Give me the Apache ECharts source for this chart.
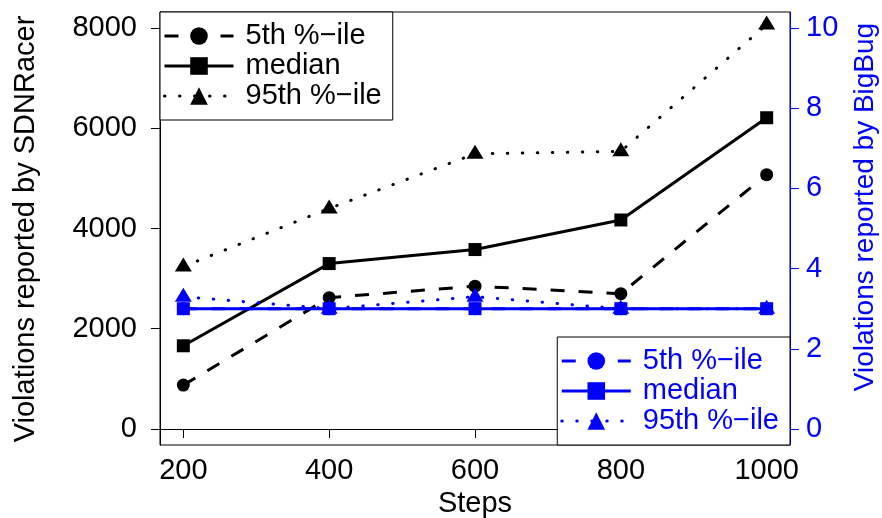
<!DOCTYPE html>
<html>
<head>
<meta charset="utf-8">
<script src="https://cdn.jsdelivr.net/npm/echarts@6/dist/echarts.min.js"></script>
<style>
  html, body { margin: 0; padding: 0; background: #fff; }
  #chart { width: 882px; height: 518px; }
</style>
</head>
<body>
<div id="chart"></div>
<script>
const steps = [200, 400, 600, 800, 1000]
const sdnP5 = [875, 2620, 2850, 2700, 5075]
const sdnMedian = [1660, 3300, 3580, 4170, 6210]
const sdnP95 = [3240, 4400, 5490, 5540, 8070]
const bugP5 = [3, 3, 3, 3, 3]
const bugMedian = [3, 3, 3, 3, 3]
const bugP95 = [3.3, 3, 3.3, 3, 3]
const leftTicks = [0, 2000, 4000, 6000, 8000]
const rightTicks = [0, 2, 4, 6, 8, 10]
const legendLabels = ['5th %\u2212ile', 'median', '95th %\u2212ile']

const font = '"Liberation Sans", Arimo, Helvetica, Arial, sans-serif'
const blue = '#0000ff'
const dashed = [14, 14]
const dotted = [0.5, 14.5]

const pairs = vals => steps.map((s, i) => [s, vals[i]])
const plain = v => String(v)

function makeSeries(name, vals, color, yIndex, symbol, size, dash) {
  return {
    name: name,
    type: 'line',
    yAxisIndex: yIndex,
    data: pairs(vals),
    symbol: symbol,
    symbolSize: size,
    symbolOffset: symbol === 'triangle' ? [0, -2] : [0, 0],
    itemStyle: { color: color },
    lineStyle: { color: color, width: 3, type: dash, cap: dash === dotted ? 'round' : 'butt' }
  }
}

const names = {
  s5: legendLabels[0], sm: legendLabels[1], s95: legendLabels[2],
  b5: legendLabels[0], bm: legendLabels[1], b95: legendLabels[2]
}

function makeLegend(data, color, pos) {
  return Object.assign({
    data: data,
    orient: 'vertical',
    selectedMode: false,
    backgroundColor: '#fff',
    borderColor: '#000',
    borderWidth: 1,
    borderRadius: 0,
    padding: [9, 11, 9, 3],
    itemWidth: 69,
    itemHeight: 22,
    itemGap: 0,
    lineStyle: { width: 3 },
    formatter: n => names[n],
    textStyle: { color: color, fontSize: 29, fontFamily: font, lineHeight: 30, padding: [0, 0, 0, 7] }
  }, pos)
}

const chart = echarts.init(document.getElementById('chart'))
chart.setOption({
  animation: false,
  grid: {
    left: 160, right: 92, top: 12, bottom: 73,
    outerBoundsMode: 'none', containLabel: false,
    show: true, borderColor: '#000', borderWidth: 1
  },
  xAxis: {
    type: 'value',
    min: 168,
    max: 1032,
    name: 'Steps',
    nameLocation: 'middle',
    nameGap: 42,
    nameTextStyle: { fontSize: 29, fontFamily: font, color: '#000' },
    axisLine: { show: true, lineStyle: { color: '#000', width: 1 } },
    axisTick: { show: true, length: 9, customValues: steps, lineStyle: { color: '#000' } },
    axisLabel: { customValues: steps, formatter: plain, fontSize: 29, fontFamily: font, color: '#000', margin: 11 },
    splitLine: { show: false }
  },
  yAxis: [{
    type: 'value',
    min: -320,
    max: 8320,
    position: 'left',
    axisLine: { show: true, lineStyle: { color: '#000', width: 1 } },
    axisTick: { show: true, length: 9, customValues: leftTicks, lineStyle: { color: '#000' } },
    axisLabel: { customValues: leftTicks, formatter: plain, fontSize: 29, fontFamily: font, color: '#000', margin: 23 },
    splitLine: { show: false }
  }, {
    type: 'value',
    min: -0.4,
    max: 10.4,
    position: 'right',
    axisLine: { show: true, lineStyle: { color: blue, width: 1 } },
    axisTick: { show: true, length: 9, customValues: rightTicks, lineStyle: { color: blue } },
    axisLabel: { customValues: rightTicks, formatter: plain, fontSize: 29, fontFamily: font, color: blue, margin: 16 },
    splitLine: { show: false }
  }],
  legend: [
    makeLegend(['s5', 'sm', 's95'], '#000', { left: 160, top: 12 }),
    makeLegend(['b5', 'bm', 'b95'], blue, { right: 92, bottom: 73 })
  ],
  graphic: [{
    type: 'text',
    x: 26,
    y: 229,
    rotation: Math.PI / 2,
    style: { text: 'Violations reported by SDNRacer', fontSize: 29, fontFamily: font, fill: '#000', align: 'center', verticalAlign: 'middle' }
  }, {
    type: 'text',
    x: 865,
    y: 207,
    rotation: Math.PI / 2,
    style: { text: 'Violations reported by BigBug', fontSize: 28, fontFamily: font, fill: blue, align: 'center', verticalAlign: 'middle' }
  }],
  series: [
    makeSeries('s5', sdnP5, '#000', 0, 'circle', 13, dashed),
    makeSeries('sm', sdnMedian, '#000', 0, 'rect', 13, 'solid'),
    makeSeries('s95', sdnP95, '#000', 0, 'triangle', [17, 14], dotted),
    makeSeries('b5', bugP5, blue, 1, 'circle', 13, dashed),
    makeSeries('bm', bugMedian, blue, 1, 'rect', 13, 'solid'),
    makeSeries('b95', bugP95, blue, 1, 'triangle', [17, 14], dotted)
  ]
})
</script>
</body>
</html>
